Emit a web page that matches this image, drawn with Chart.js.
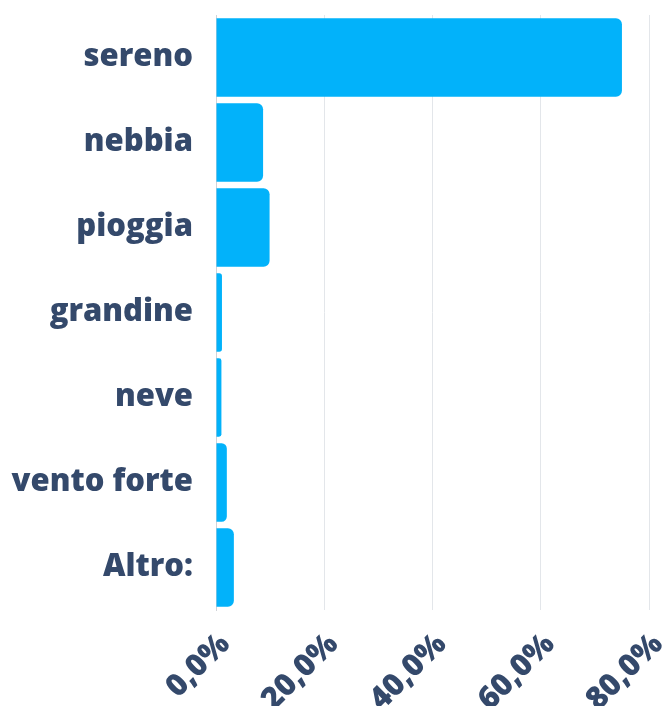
<!DOCTYPE html>
<html>
<head>
<meta charset="utf-8">
<script src="https://cdn.jsdelivr.net/npm/chart.js@4"></script>
<style>
  html, body { margin: 0; padding: 0; background: #fff; }
  #wrap { width: 664px; height: 706px; }
</style>
</head>
<body>
<div id="wrap"><canvas id="myChart"></canvas></div>
<script>
const categories = ["sereno", "nebbia", "pioggia", "grandine", "neve", "vento forte", "Altro:"];
const percentages = [75.0, 8.7, 9.9, 1.1, 1.0, 2.0, 3.3];
const xTicks = [0, 20, 40, 60, 80];

const labelColor = "#34496b";
const fmt = (v) => v.toFixed(1).replace(".", ",") + "%";

const chart = new Chart(document.getElementById("myChart"), {
  type: "bar",
  data: {
    labels: categories,
    datasets: [
      {
        data: percentages,
        backgroundColor: "#02b2fa",
        borderRadius: 6,
        categoryPercentage: 1,
        barPercentage: 0.922,
      },
    ],
  },
  options: {
    indexAxis: "y",
    responsive: true,
    maintainAspectRatio: false,
    animation: false,
    layout: { padding: { top: 15, right: 15, left: 0, bottom: 0 } },
    plugins: {
      legend: { display: false },
      tooltip: { enabled: false },
    },
    scales: {
      x: {
        min: 0,
        max: 80,
        afterBuildTicks: (axis) => {
          axis.ticks = xTicks.map((v) => ({ value: v }));
        },
        afterFit: (axis) => {
          axis.height = 96;
          axis.paddingLeft = 0;
          axis.paddingRight = 0;
        },
        grid: { color: "#e3e6ea", drawTicks: false },
        border: { display: false },
        ticks: {
          color: labelColor,
          font: { family: "'Open Sans'", size: 31, weight: "800" },
          minRotation: 45,
          maxRotation: 45,
          padding: 16,
          labelOffset: 9,
          callback: (v) => fmt(v),
        },
      },
      y: {
        afterFit: (axis) => {
          axis.width = 216;
          axis.paddingTop = 0;
          axis.paddingBottom = 0;
        },
        grid: { display: false, drawTicks: false },
        border: { display: true, color: "#d0d3d8" },
        ticks: {
          color: labelColor,
          font: { family: "'Open Sans'", size: 31, weight: "800" },
          padding: 23,
        },
      },
    },
  },
});
</script>
</body>
</html>
